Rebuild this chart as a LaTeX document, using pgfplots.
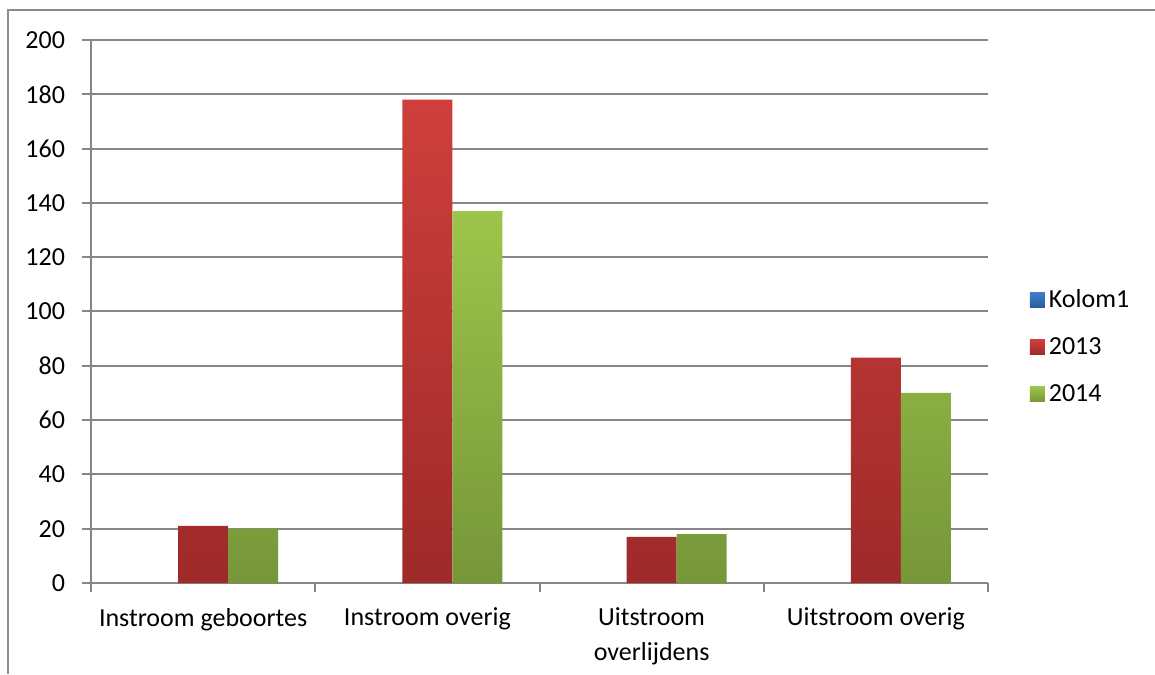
\documentclass[border=0pt]{standalone}
\usepackage{fontspec}
\setmainfont{Carlito}
\usepackage{pgfplots}
\pgfplotsset{compat=1.18}
\definecolor{gridgray}{RGB}{134,134,134}
\definecolor{framegray}{RGB}{140,140,140}
\definecolor{redtop}{RGB}{206,63,60}
\definecolor{redbot}{RGB}{158,42,41}
\definecolor{greentop}{RGB}{157,197,74}
\definecolor{greenbot}{RGB}{118,150,57}
\definecolor{bluetop}{RGB}{62,124,204}
\definecolor{bluebot}{RGB}{42,92,160}
\pgfplotstableread{
x y2013 y2014
0 21 20
1 178 137
2 17 18
3 83 70
}\datatable
\begin{document}
\begin{tikzpicture}
\useasboundingbox (-45.5pt,-45.5pt) rectangle (532pt,291.5pt);
\draw[framegray, line width=1pt] (-41.5pt,-45.5pt) -- (-41.5pt,286.5pt) -- (532pt,286.5pt);
\begin{axis}[
  at={(0pt,0pt)}, anchor=south west,
  width=448.5pt, height=271.5pt, scale only axis,
  xmin=-0.5, xmax=3.5, ymin=0, ymax=200,
  axis lines*=left,
  axis line style={-, draw=gridgray, line width=1pt},
  ytick={0,20,...,200},
  xtick={0,1,2,3},
  xticklabels={Instroom geboortes, Instroom overig, {Uitstroom\\overlijdens}, Uitstroom overig},
  minor xtick={-0.5,0.5,1.5,2.5,3.5},
  tick align=outside,
  major x tick style={draw=none},
  minor tick length=4.5pt,
  major tick length=4.5pt,
  every tick/.style={draw=gridgray, line width=1pt},
  ymajorgrids,
  major grid style={draw=gridgray, line width=1pt},
  tick label style={font=\fontsize{13}{17.3}\selectfont, text=black},
  /pgf/number format/assume math mode=true,
  xticklabel style={align=center, anchor=north, yshift=-4.5pt},
  yticklabel style={anchor=east, xshift=-5pt},
  legend style={at={(1.0395,0.556)}, anchor=north west, draw=none, fill=none,
    font=\fontsize{13}{16}\selectfont, row sep=9.5pt, legend cell align=left},
  legend image code/.code={\path[#1] (0pt,-3.75pt) rectangle (7.5pt,3.75pt);},
  clip=false,
]
\addlegendimage{draw=none, top color=bluetop, bottom color=bluebot}
\addlegendentry{Kolom1}
\addplot[ybar, bar width=0.223, bar shift=0, draw=none,
  top color=redtop, middle color=redtop!80!redbot, bottom color=redbot]
  table[x=x, y=y2013] {\datatable};
\addlegendentry{2013}
\addplot[ybar, bar width=0.223, bar shift=0.223, draw=none,
  top color=greentop, middle color=greentop!80!greenbot, bottom color=greenbot]
  table[x=x, y=y2014] {\datatable};
\addlegendentry{2014}
\end{axis}
\end{tikzpicture}
\end{document}
